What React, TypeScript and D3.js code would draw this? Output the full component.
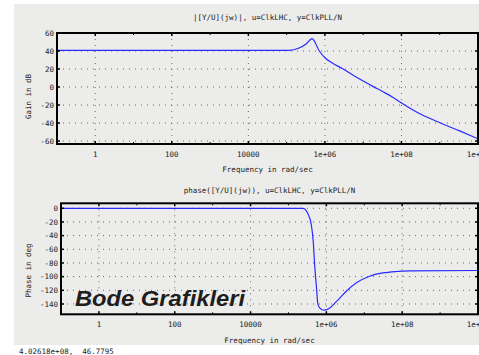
import React from "react";
import * as d3 from "d3";

const magFreq = [0.1, 1.17e5, 2.1e5, 3.3e5, 4.6e5, 7.2e5, 1.02e6, 1.55e6, 2.9e6, 5.2e6, 9.5e6, 1.74e7, 3.2e7, 5.75e7, 9.8e7, 2.95e8, 9.8e8, 3.2e9, 1e10];
const magDb = [40.8, 40.8, 43.3, 48.1, 53.7, 39.7, 32.2, 26.7, 20.3, 13.7, 7.2, 1.0, -5.0, -11.0, -17.5, -29.5, -39.5, -48.5, -57.5];

const phFreq = [0.1, 2.4e5, 3.2e5, 4.0e5, 4.5e5, 4.9e5, 5.5e5, 6.0e5, 7.4e5, 9.1e5, 1.23e6, 1.8e6, 3.4e6, 6.2e6, 1.38e7, 3.1e7, 7.1e7, 1e8, 1.6e8, 1e10];
const phDeg = [0, 0, -6.9, -24, -48, -82, -116.5, -141, -148, -149, -145.8, -137, -121, -109, -99.4, -94.6, -92.5, -92, -91.5, -91];

const xMajor = [1, 100, 1e4, 1e6, 1e8, 1e10];
const xMajorLabels = ["1", "100", "10000", "1e+06", "1e+08", "1e+10"];
const xMinor = [0.1, 10, 1000, 1e5, 1e7, 1e9];
const magTicks = [60, 40, 20, 0, -20, -40, -60];
const phTicks = [0, -20, -40, -60, -80, -100, -120, -140];

const magTitle = "|[Y/U](jw)|, u=ClkLHC, y=ClkPLL/N";
const phTitle = "phase([Y/U](jw)), u=ClkLHC, y=ClkPLL/N";
const xTitle = "Frequency in rad/sec";
const magYTitle = "Gain in dB";
const phYTitle = "Phase in deg";
const statusText = "4.02618e+08,  46.7795";
const overlayText = "Bode Grafikleri";

const MONO = "'DejaVu Sans Mono', monospace";

type PanelProps = {
  x0: number; x1: number; y0: number; y1: number;
  yDomain: [number, number];
  yTicks: number[];
  freqs: number[]; vals: number[];
  title: string; titleY: number;
  ylabel: string; ylabelY: number;
  xlabelY: number; tickLabelY: number;
};

function Panel(p: PanelProps) {
  const x = d3.scaleLog().domain([0.1, 1e10]).range([p.x0, p.x1]);
  const y = d3.scaleLinear().domain(p.yDomain).range([p.y1, p.y0]);
  const line = d3
    .line<number>()
    .x((_, i) => x(p.freqs[i]))
    .y((v) => y(v))
    .curve(d3.curveMonotoneX);
  const d = line(p.vals) || "";
  const cx = (p.x0 + p.x1) / 2;
  const clipId = "clip" + Math.round(p.y0);
  return (
    <g>
      <defs>
        <clipPath id={clipId}>
          <rect x={p.x0} y={p.y0} width={p.x1 - p.x0} height={p.y1 - p.y0} />
        </clipPath>
      </defs>
      {p.yTicks.map((t) =>
        y(t) > p.y0 + 1 && y(t) < p.y1 - 1 ? (
          <line key={"gy" + t} x1={p.x0} x2={p.x1} y1={y(t)} y2={y(t)} stroke="#666" strokeWidth={1} strokeDasharray="1,5" />
        ) : null
      )}
      {xMajor.map((t) =>
        x(t) > p.x0 + 1 && x(t) < p.x1 - 1 ? (
          <line key={"gx" + t} x1={x(t)} x2={x(t)} y1={p.y0} y2={p.y1} stroke="#666" strokeWidth={1} strokeDasharray="1,5" />
        ) : null
      )}
      <path d={d} fill="none" stroke="#2a2aff" strokeWidth={1.2} clipPath={`url(#${clipId})`} />
      {xMajor.map((t) => (
        <g key={"tx" + t}>
          <line x1={x(t)} x2={x(t)} y1={p.y0} y2={p.y0 + 3} stroke="#000" strokeWidth={1.5} />
          <line x1={x(t)} x2={x(t)} y1={p.y1} y2={p.y1 - 3} stroke="#000" strokeWidth={1.5} />
        </g>
      ))}
      {xMinor.map((t) => (
        <g key={"tm" + t}>
          <line x1={x(t)} x2={x(t)} y1={p.y0} y2={p.y0 + 2} stroke="#000" strokeWidth={1} />
          <line x1={x(t)} x2={x(t)} y1={p.y1} y2={p.y1 - 2} stroke="#000" strokeWidth={1} />
        </g>
      ))}
      {p.yTicks.map((t) => (
        <g key={"ty" + t}>
          <line x1={p.x0} x2={p.x0 + 3} y1={y(t)} y2={y(t)} stroke="#000" strokeWidth={1.5} />
          <line x1={p.x1} x2={p.x1 - 3} y1={y(t)} y2={y(t)} stroke="#000" strokeWidth={1.5} />
        </g>
      ))}
      <rect x={p.x0} y={p.y0} width={p.x1 - p.x0} height={p.y1 - p.y0} fill="none" stroke="#000" strokeWidth={2} />
      {xMajor.map((t, i) => (
        <text key={"lx" + t} x={x(t)} y={p.tickLabelY} textAnchor="middle" fontFamily={MONO} fontSize={7.5} fill="#222">
          {xMajorLabels[i]}
        </text>
      ))}
      {p.yTicks.map((t) => (
        <text key={"ly" + t} x={p.x0 - 3} y={y(t) + 2.7} textAnchor="end" fontFamily={MONO} fontSize={7.5} fill="#222">
          {String(t)}
        </text>
      ))}
      <text x={cx} y={p.titleY} textAnchor="middle" fontFamily={MONO} fontSize={7.5} fill="#222">{p.title}</text>
      <text x={cx} y={p.xlabelY} textAnchor="middle" fontFamily={MONO} fontSize={7.5} fill="#222">{xTitle}</text>
      <text transform={`translate(31,${p.ylabelY}) rotate(-90)`} textAnchor="middle" fontFamily={MONO} fontSize={7.5} fill="#222">{p.ylabel}</text>
    </g>
  );
}

export default function App() {
  return (
    <svg width={479} height={355} style={{ position: "fixed", left: 0, top: 0 }}>
      <rect x={0} y={0} width={479} height={355} fill="#fff" />
      <rect x={14} y={4} width={465} height={341} fill="#ececeb" />
      <Panel
        x0={57} x1={478} y0={33} y1={144}
        yDomain={[-63.3, 60]} yTicks={magTicks}
        freqs={magFreq} vals={magDb}
        title={magTitle} titleY={20}
        ylabel={magYTitle} ylabelY={96.5}
        xlabelY={172} tickLabelY={157}
      />
      <Panel
        x0={61} x1={478} y0={203.3} y1={314.3}
        yDomain={[-155.1, 7.3]} yTicks={phTicks}
        freqs={phFreq} vals={phDeg}
        title={phTitle} titleY={193}
        ylabel={phYTitle} ylabelY={270.5}
        xlabelY={343} tickLabelY={327}
      />
      <text x={75} y={306} fontFamily="'Liberation Sans', Arial, sans-serif" fontWeight="bold" fontStyle="italic" fontSize={22} fill="#1e1e1e" textLength={170} lengthAdjust="spacingAndGlyphs">
        {overlayText}
      </text>
      <text x={19} y={354} fontFamily={MONO} fontSize={7.5} fill="#222" xmlSpace="preserve">{statusText}</text>
    </svg>
  );
}
